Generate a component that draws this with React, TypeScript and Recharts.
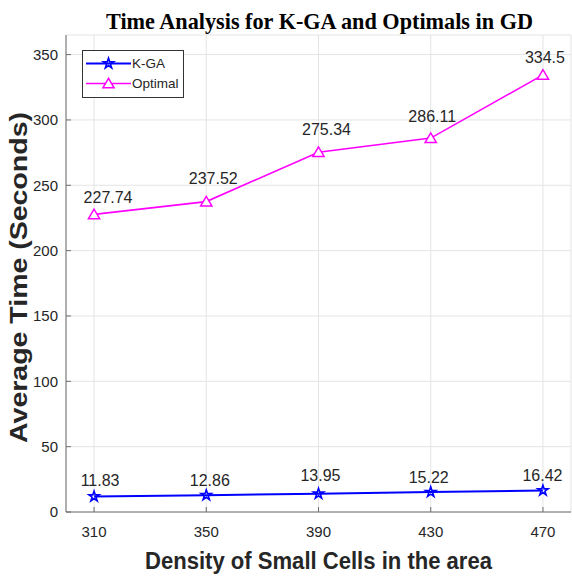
import React from 'react';
import { LineChart, Line, XAxis, YAxis, CartesianGrid, LabelList, Legend } from 'recharts';

const densities = [310, 350, 390, 430, 470];
const kgaTimes = [11.83, 12.86, 13.95, 15.22, 16.42];
const optimalTimes = [227.74, 237.52, 275.34, 286.11, 334.5];
const xTicks = [310, 350, 390, 430, 470];
const yTicks = [0, 50, 100, 150, 200, 250, 300, 350];
const seriesNames = ['K-GA', 'Optimal'];
const titleText = 'Time Analysis for K-GA and Optimals in GD';
const xLabelText = 'Density of Small Cells in the area';
const yLabelText = 'Average Time (Seconds)';

const data = densities.map((d, i) => ({ density: d, kga: kgaTimes[i], optimal: optimalTimes[i] }));

// label nudges (dx, dy) relative to each point
const kgaNudge = [[6, -10.5], [3.5, -9.5], [2, -12.5], [-2, -9], [-0.5, -9.5]];
const optNudge = [[14, -11], [7, -18], [8, -17.5], [1.5, -16], [2, -12]];

const CHART_W = 572;
const CHART_H = 576;
const MARGIN = { top: 35, right: 1, bottom: 0, left: 0 };
const Y_AXIS_W = 66;

const BLUE = '#0000ff';
const MAGENTA = '#ff00ff';
const TEXT = '#262626';
const AXIS = '#6e6e6e';
const SANS = '"Liberation Sans", Arial, sans-serif';
const SERIF = '"Liberation Serif", "Times New Roman", serif';

const starPath = (cx: number, cy: number, R: number) => {
  const r = R * 0.382;
  const pts: string[] = [];
  for (let k = 0; k < 10; k++) {
    const rad = k % 2 === 0 ? R : r;
    const a = -Math.PI / 2 + (k * Math.PI) / 5;
    pts.push(`${(cx + rad * Math.cos(a)).toFixed(2)},${(cy + rad * Math.sin(a)).toFixed(2)}`);
  }
  return 'M' + pts.join('L') + 'Z';
};

const Star = ({ cx, cy }: any) => (
  <path d={starPath(cx, cy, 5.4)} fill="none" stroke={BLUE} strokeWidth={1.6} />
);
const Tri = ({ cx, cy }: any) => (
  <path
    d={`M${cx},${cy - 5.2}L${cx - 5.6},${cy + 4.3}L${cx + 5.6},${cy + 4.3}Z`}
    fill="#fff"
    stroke={MAGENTA}
    strokeWidth={1.5}
  />
);

const makeLabel = (nudge: number[][]) => (props: any) => {
  const vb = props.viewBox || {};
  const px = props.x ?? vb.x;
  const py = props.y ?? vb.y;
  const i = props.index ?? 0;
  const n = nudge[i] || [0, -12];
  return (
    <text x={px + n[0]} y={py + n[1]} textAnchor="middle" fontSize={16} fontFamily={SANS} fill={TEXT}>
      {props.value}
    </text>
  );
};

const LegendBox = () => (
  <div style={{ width: 102, height: 48, boxSizing: 'border-box', border: '1px solid #333', background: '#fff' }}>
    <svg width={100} height={46} style={{ display: 'block' }}>
      <line x1={3} y1={12.5} x2={48} y2={12.5} stroke={BLUE} strokeWidth={2} />
      <Star cx={25.5} cy={12.5} />
      <text x={49} y={17.2} fontSize={13.5} fontFamily={SANS} fill={TEXT}>{seriesNames[0]}</text>
      <line x1={3} y1={32.5} x2={48} y2={32.5} stroke={MAGENTA} strokeWidth={1.6} />
      <Tri cx={25.5} cy={32.5} />
      <text x={49} y={37.2} fontSize={13.5} fontFamily={SANS} fill={TEXT}>{seriesNames[1]}</text>
    </svg>
  </div>
);

const XLabel = (props: any) => {
  const vb = props.viewBox || {};
  return (
    <text
      x={vb.x + vb.width / 2}
      y={vb.y + 57}
      textAnchor="middle"
      fontSize={23}
      fontWeight="bold"
      fontFamily={SANS}
      fill={TEXT}
      textLength={347}
      lengthAdjust="spacingAndGlyphs"
    >
      {xLabelText}
    </text>
  );
};

// Y-axis label, plus the chart title (centred over the plot area)
const YLabel = (props: any) => {
  const vb = props.viewBox || {};
  const cx = 27;
  const cy = vb.y + vb.height / 2 + 4;
  const plotLeft = MARGIN.left + Y_AXIS_W;
  const plotRight = CHART_W - MARGIN.right;
  const tx = (plotLeft + plotRight) / 2 + 1;
  return (
    <g>
      <text
        x={tx}
        y={vb.y - 6}
        textAnchor="middle"
        fontSize={24}
        fontWeight="bold"
        fontFamily={SERIF}
        fill="#000"
        textLength={427}
        lengthAdjust="spacingAndGlyphs"
      >
        {titleText}
      </text>
      <text
        x={cx}
        y={cy}
        transform={`rotate(-90, ${cx}, ${cy})`}
        textAnchor="middle"
        fontSize={24}
        fontWeight="bold"
        fontFamily={SANS}
        fill={TEXT}
        textLength={331}
        lengthAdjust="spacingAndGlyphs"
      >
        {yLabelText}
      </text>
    </g>
  );
};

export default function App() {
  return (
    <div style={{ position: 'absolute', left: 0, top: 0, width: CHART_W, height: CHART_H, background: '#fff' }}>
      <LineChart width={CHART_W} height={CHART_H} data={data} margin={MARGIN}>
        <CartesianGrid stroke="#e4e4e4" strokeWidth={1} xAxisId="b" yAxisId="l" />
        <XAxis
          xAxisId="b"
          dataKey="density"
          type="number"
          domain={[300, 480]}
          ticks={xTicks}
          height={64}
          tickSize={-5}
          tickMargin={19}
          axisLine={{ stroke: AXIS }}
          tickLine={{ stroke: AXIS }}
          tick={{ fill: TEXT, fontSize: 15, fontFamily: SANS }}
          label={{ content: XLabel }}
        />
        <XAxis
          xAxisId="t"
          orientation="top"
          dataKey="density"
          type="number"
          domain={[300, 480]}
          ticks={xTicks}
          height={0}
          tickSize={-5}
          axisLine={{ stroke: AXIS }}
          tickLine={{ stroke: AXIS }}
          tickFormatter={() => ''}
        />
        <YAxis
          yAxisId="l"
          type="number"
          domain={[0, 365]}
          ticks={yTicks}
          width={Y_AXIS_W}
          tickSize={-5}
          tickMargin={13}
          axisLine={{ stroke: AXIS }}
          tickLine={{ stroke: AXIS }}
          tick={{ fill: TEXT, fontSize: 15, fontFamily: SANS }}
          label={{ content: YLabel }}
        />
        <YAxis
          yAxisId="r"
          orientation="right"
          type="number"
          domain={[0, 365]}
          ticks={yTicks}
          width={0}
          tickSize={-5}
          axisLine={{ stroke: AXIS }}
          tickLine={{ stroke: AXIS }}
          tickFormatter={() => ''}
        />
        <Legend
          layout="vertical"
          align="center"
          verticalAlign="middle"
          content={() => <LegendBox />}
          wrapperStyle={{ position: 'absolute', left: 82, top: 50, width: 102, height: 48 }}
        />
        <Line
          xAxisId="b"
          yAxisId="l"
          type="linear"
          dataKey="kga"
          name={seriesNames[0]}
          stroke={BLUE}
          strokeWidth={2}
          isAnimationActive={false}
          dot={(p: any) => <Star key={`k-${p.index}`} cx={p.cx} cy={p.cy} />}
          activeDot={false}
        >
          <LabelList dataKey="kga" content={makeLabel(kgaNudge)} />
        </Line>
        <Line
          xAxisId="b"
          yAxisId="l"
          type="linear"
          dataKey="optimal"
          name={seriesNames[1]}
          stroke={MAGENTA}
          strokeWidth={1.6}
          isAnimationActive={false}
          dot={(p: any) => <Tri key={`o-${p.index}`} cx={p.cx} cy={p.cy} />}
          activeDot={false}
        >
          <LabelList dataKey="optimal" content={makeLabel(optNudge)} />
        </Line>
      </LineChart>
    </div>
  );
}
